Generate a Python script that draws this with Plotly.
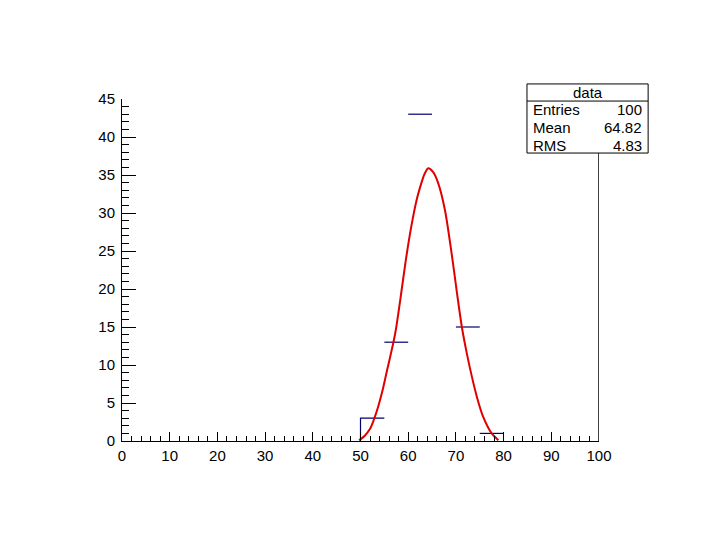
import plotly.graph_objects as go

# histogram bins (width 5); bin 65-70 shows no segment
bin_lo = [50, 55, 60, 65, 70, 75]
bin_hi = [55, 60, 65, 70, 75, 80]
counts = [3, 13, 43, None, 15, 1]

# fitted curve, points
fit_x = [49.7, 50.9, 52.0, 52.8, 53.7, 54.6, 55.5, 56.8, 57.4, 58.3, 59.5, 60.7, 61.8, 62.5, 63.4,
         64.2, 65.2, 66.3, 67.7, 69.1, 70.2, 71.3, 72.3, 73.3, 74.4, 75.7, 77.5, 78.9]
fit_y = [0.1, 0.7, 1.6, 2.8, 4.5, 6.6, 9.1, 12.7, 14.6, 18.4, 23.8, 28.4, 31.8, 33.4, 35.1,
         35.9, 35.4, 33.9, 30.4, 24.7, 19.6, 14.8, 11.5, 8.6, 5.8, 3.2, 1.0, 0.1]

stat_names = ["Entries", "Mean", "RMS"]
stat_values = ["100", "64.82", "4.83"]

hx, hy = [bin_lo[0]], [0]
for lo, hi, c in zip(bin_lo, bin_hi, counts):
    if c is None:
        continue
    hx += [lo, hi, None]
    hy += [c, c, None]

fig = go.Figure()
fig.add_trace(go.Scatter(x=hx, y=hy, mode="lines",
                         line=dict(color="#000070", width=1.2), hoverinfo="skip"))
fig.add_trace(go.Scatter(x=fit_x, y=fit_y, mode="lines", line_shape="spline",
                         line=dict(color="#e00000", width=2, smoothing=0.8)))

font = dict(family="Liberation Sans, Arial, sans-serif", size=15, color="black")
# page body has an 8px margin, so offsets are 8px smaller than in the picture
fig.update_layout(
    width=720, height=540,
    margin=dict(l=114, r=129, t=91, b=107),
    paper_bgcolor="white", plot_bgcolor="white",
    showlegend=False, font=font,
)
fig.update_xaxes(range=[0, 100], dtick=10, showgrid=False, zeroline=False,
                 showline=True, linecolor="black", linewidth=1,
                 ticks="inside", ticklen=9, tickcolor="black", ticklabelstandoff=1,
                 minor=dict(ticks="inside", dtick=2, ticklen=5, tickcolor="black"))
fig.update_yaxes(range=[0, 45], dtick=5, showgrid=False, zeroline=False,
                 showline=True, linecolor="black", linewidth=1,
                 ticks="inside", ticklen=14, tickcolor="black", ticklabelstandoff=3,
                 minor=dict(ticks="inside", dtick=1, ticklen=7, tickcolor="black"))

# right frame edge
fig.add_shape(type="line", xref="x", yref="y", x0=100, x1=100, y0=0, y1=45,
              line=dict(color="black", width=1.5))

# stats box
bx0, bx1, by0, by1, bsep = 0.849, 1.103, 0.842, 1.044, 0.994
fig.add_shape(type="rect", xref="paper", yref="paper", x0=bx0, x1=bx1, y0=by0, y1=by1,
              line=dict(color="black", width=1), fillcolor="white")
fig.add_shape(type="line", xref="paper", yref="paper", x0=bx0, x1=bx1, y0=bsep, y1=bsep,
              line=dict(color="black", width=1))
fig.add_annotation(xref="paper", yref="paper", x=(bx0 + bx1) / 2, y=1.019, text="data",
                   xanchor="center", yanchor="middle", showarrow=False, font=font)
for i, (n, v) in enumerate(zip(stat_names, stat_values)):
    yy = 0.968 - i * 0.0515
    fig.add_annotation(xref="paper", yref="paper", x=bx0 + 0.008, y=yy, text=n,
                       xanchor="left", yanchor="middle", showarrow=False, font=font)
    fig.add_annotation(xref="paper", yref="paper", x=bx1 - 0.008, y=yy, text=v,
                       xanchor="right", yanchor="middle", showarrow=False, font=font)

fig.write_html("out.html")
